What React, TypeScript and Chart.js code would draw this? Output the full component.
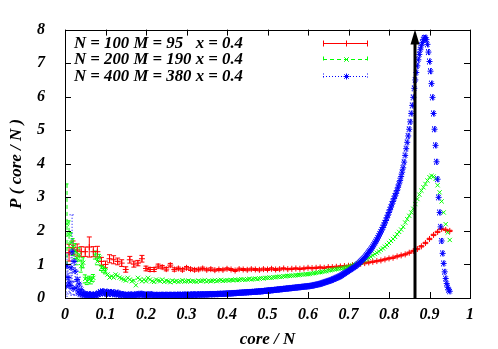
import React, { useEffect, useRef } from 'react';
import { Chart, registerables } from 'chart.js';

Chart.register(...registerables);

const FONT_FAMILY = "'Liberation Serif', 'Times New Roman', Times, serif";

const X_TITLE = 'core / N';
const Y_TITLE = 'P ( core / N )';
const X_MIN = 0;
const X_MAX = 1;
const X_STEP = 0.1;
const Y_MIN = 0;
const Y_MAX = 8;
const Y_STEP = 1;

const legendLabels = [
  'N = 100 M = 95   x = 0.4',
  'N = 200 M = 190 x = 0.4',
  'N = 400 M = 380 x = 0.4',
];
const systemSizes = [100, 200, 400];

// arrow marking the threshold
const ARROW_X = 0.865;
const ARROW_FROM = 0;
const ARROW_TO = 8;

// N = 100, points at k/100, k = 1..95
const red = [
  1.35, 1.5, 1.43, 1.38, 1.38, 1.52, 1.38, 1.38, 1.09, 1.0,
  1.17, 1.14, 1.09, 1.04, 0.85, 1.14, 1.01, 1.04, 1.17, 0.88,
  0.85, 0.85, 0.95, 0.92, 0.86, 0.98, 0.85, 0.88, 0.84, 0.9,
  0.86, 0.84, 0.85, 0.88, 0.84, 0.86, 0.83, 0.85, 0.84, 0.87,
  0.85, 0.82, 0.86, 0.85, 0.84, 0.86, 0.85, 0.84, 0.86, 0.85,
  0.87, 0.85, 0.86, 0.88, 0.86, 0.87, 0.88, 0.87, 0.88, 0.9,
  0.89, 0.9, 0.91, 0.9, 0.92, 0.92, 0.93, 0.94, 0.95, 0.96,
  0.98, 1.0, 1.02, 1.04, 1.06, 1.08, 1.1, 1.12, 1.15, 1.18,
  1.2, 1.24, 1.27, 1.3, 1.35, 1.4, 1.46, 1.54, 1.64, 1.76,
  1.88, 1.97, 2.06, 2.03, 2.0,
];
const redErr = [
  0.25, 0.2, 0.18, 0.15, 0.14, 0.3, 0.15, 0.16, 0.12, 0.1,
  0.12, 0.12, 0.1, 0.1, 0.08, 0.1, 0.09, 0.08, 0.1, 0.07,
  0.06, 0.06, 0.06, 0.05, 0.05, 0.05, 0.05, 0.04, 0.04, 0.04,
  0.04, 0.04, 0.04, 0.04, 0.03, 0.04, 0.03, 0.03, 0.03, 0.03,
  0.03, 0.03, 0.03, 0.03, 0.03, 0.03, 0.03, 0.03, 0.03, 0.03,
  0.03, 0.03, 0.03, 0.02, 0.02, 0.02, 0.02, 0.02, 0.02, 0.02,
  0.02, 0.02, 0.02, 0.02, 0.02, 0.02, 0.02, 0.02, 0.02, 0.02,
  0.02, 0.02, 0.02, 0.02, 0.02, 0.02, 0.02, 0.02, 0.02, 0.02,
  0.02, 0.02, 0.02, 0.02, 0.02, 0.02, 0.02, 0.02, 0.02, 0.02,
  0.02, 0.02, 0.02, 0.02, 0.02,
];

// N = 200, points at k/200, k = 1..190
const green = [
  2.2, 1.9, 1.65, 1.52, 1.4, 1.19, 1.3, 0.95, 1.05, 0.57,
  0.5, 0.55, 0.52, 0.6, 1.28, 1.09, 1.2, 0.9, 0.85, 0.8,
  0.7, 0.61, 0.65, 0.61, 0.7, 0.66, 0.61, 0.58, 0.55, 0.52,
  0.6, 0.55, 0.5, 0.52, 0.38, 0.6, 0.55, 0.5, 0.55, 0.5,
  0.6, 0.55, 0.5, 0.48, 0.55, 0.52, 0.5, 0.55, 0.48, 0.52,
  0.5, 0.47, 0.52, 0.49, 0.51, 0.48, 0.5, 0.53, 0.49, 0.5,
  0.52, 0.49, 0.51, 0.5, 0.48, 0.52, 0.5, 0.51, 0.53, 0.49,
  0.52, 0.5, 0.51, 0.53, 0.5, 0.52, 0.54, 0.51, 0.52, 0.53,
  0.52, 0.54, 0.53, 0.55, 0.53, 0.54, 0.56, 0.55, 0.54, 0.56,
  0.57, 0.55, 0.57, 0.58, 0.56, 0.58, 0.59, 0.58, 0.6, 0.6,
  0.61, 0.6, 0.62, 0.62, 0.63, 0.64, 0.63, 0.65, 0.65, 0.66,
  0.66, 0.67, 0.67, 0.68, 0.68, 0.69, 0.7, 0.7, 0.71, 0.71,
  0.72, 0.73, 0.74, 0.75, 0.76, 0.77, 0.78, 0.79, 0.8, 0.82,
  0.83, 0.84, 0.85, 0.86, 0.87, 0.88, 0.89, 0.9, 0.92, 0.93,
  0.95, 0.97, 0.99, 1.0, 1.03, 1.06, 1.09, 1.12, 1.15, 1.2,
  1.23, 1.27, 1.31, 1.35, 1.39, 1.44, 1.48, 1.53, 1.58, 1.64,
  1.7, 1.76, 1.82, 1.9, 1.97, 2.04, 2.12, 2.25, 2.35, 2.45,
  2.55, 2.66, 2.8, 2.95, 3.08, 3.2, 3.3, 3.4, 3.5, 3.6,
  3.64, 3.62, 3.55, 3.36, 3.15, 2.88, 2.55, 2.2, 1.95, 1.73,
];
const greenErr = [
  1.2, 0.4, 0.3, 0.25, 0.22, 0.2, 0.2, 0.18, 0.15, 0.12,
  0.1, 0.1, 0.1, 0.1, 0.12, 0.1, 0.1, 0.08, 0.08, 0.08,
];

// N = 400, points at k/400, k = 1..380
const blue = [
  0.35, 0.95, 0.61, 0.45, 0.37, 0.9, 1.38, 0.28, 1.09, 0.8,
  0.3, 0.55, 0.18, 0.42, 0.12, 0.25, 0.1, 0.15, 0.08, 0.12,
  0.1, 0.07, 0.09, 0.12, 0.08, 0.06, 0.1, 0.09, 0.07, 0.11,
  0.08, 0.1, 0.14, 0.12, 0.18, 0.15, 0.2, 0.16, 0.13, 0.17,
  0.19, 0.14, 0.16, 0.12, 0.18, 0.15, 0.13, 0.17, 0.11, 0.14,
  0.12, 0.16, 0.1, 0.13, 0.09, 0.11, 0.12, 0.08, 0.1, 0.09,
  0.08, 0.1, 0.07, 0.09, 0.11, 0.08, 0.07, 0.1, 0.09, 0.08,
  0.12, 0.1, 0.09, 0.11, 0.13, 0.1, 0.12, 0.09, 0.08, 0.1,
  0.11, 0.09, 0.08, 0.1, 0.12, 0.09, 0.08, 0.07, 0.09, 0.1,
  0.08, 0.07, 0.09, 0.08, 0.1, 0.09, 0.08, 0.09, 0.1, 0.08,
  0.09, 0.08, 0.1, 0.09, 0.08, 0.09, 0.1, 0.09, 0.08, 0.09,
  0.1, 0.09, 0.1, 0.09, 0.08, 0.1, 0.09, 0.1, 0.09, 0.1,
  0.1, 0.09, 0.1, 0.1, 0.09, 0.1, 0.11, 0.1, 0.09, 0.1,
  0.11, 0.1, 0.1, 0.11, 0.1, 0.11, 0.1, 0.11, 0.11, 0.1,
  0.11, 0.11, 0.12, 0.11, 0.11, 0.12, 0.11, 0.12, 0.12, 0.11,
  0.12, 0.12, 0.13, 0.12, 0.12, 0.13, 0.12, 0.13, 0.13, 0.13,
  0.13, 0.14, 0.13, 0.14, 0.14, 0.14, 0.15, 0.14, 0.15, 0.15,
  0.15, 0.16, 0.15, 0.16, 0.16, 0.16, 0.17, 0.16, 0.17, 0.17,
  0.17, 0.18, 0.17, 0.18, 0.18, 0.18, 0.19, 0.18, 0.19, 0.19,
  0.2, 0.19, 0.2, 0.2, 0.2, 0.21, 0.21, 0.21, 0.22, 0.22,
  0.22, 0.22, 0.23, 0.23, 0.23, 0.24, 0.24, 0.24, 0.25, 0.25,
  0.25, 0.26, 0.26, 0.26, 0.27, 0.27, 0.27, 0.28, 0.28, 0.28,
  0.29, 0.29, 0.29, 0.3, 0.3, 0.3, 0.31, 0.31, 0.31, 0.32,
  0.32, 0.32, 0.33, 0.33, 0.33, 0.34, 0.34, 0.34, 0.35, 0.35,
  0.35, 0.36, 0.36, 0.37, 0.37, 0.38, 0.39, 0.39, 0.4, 0.41,
  0.41, 0.42, 0.43, 0.44, 0.45, 0.46, 0.47, 0.48, 0.49, 0.5,
  0.51, 0.52, 0.53, 0.54, 0.56, 0.57, 0.58, 0.6, 0.61, 0.62,
  0.64, 0.65, 0.67, 0.69, 0.71, 0.73, 0.75, 0.77, 0.79, 0.81,
  0.83, 0.85, 0.87, 0.89, 0.91, 0.93, 0.95, 0.97, 1.0, 1.02,
  1.05, 1.08, 1.11, 1.14, 1.17, 1.2, 1.24, 1.28, 1.32, 1.36,
  1.4, 1.44, 1.48, 1.53, 1.58, 1.63, 1.68, 1.73, 1.79, 1.85,
  1.91, 1.97, 2.03, 2.1, 2.17, 2.24, 2.31, 2.39, 2.47, 2.55,
  2.63, 2.71, 2.8, 2.88, 2.96, 3.04, 3.12, 3.2, 3.3, 3.4,
  3.5, 3.62, 3.75, 3.88, 4.05, 4.25, 4.45, 4.64, 4.83, 5.03,
  5.25, 5.5, 5.74, 5.98, 6.25, 6.5, 6.72, 6.92, 7.1, 7.26,
  7.4, 7.52, 7.62, 7.7, 7.75, 7.76, 7.7, 7.56, 7.33, 7.05,
  6.76, 6.39, 5.98, 5.5, 5.03, 4.55, 4.06, 3.54, 3.0, 2.55,
  2.12, 1.7, 1.33, 1.03, 0.78, 0.58, 0.43, 0.32, 0.24, 0.2,
];
const blueErr = [
  0.3, 0.4, 0.3, 0.3, 0.25, 0.4, 1.1, 0.2, 0.35, 0.3,
  0.2, 0.25, 0.1, 0.2, 0.08, 0.1, 0.06, 0.06, 0.05, 0.05,
];

const seriesValues = [red, green, blue];
const seriesErrors = [redErr, greenErr, blueErr];
const seriesColors = ['#ff0000', '#00ff00', '#0000ff'];
const seriesPointStyles = ['cross', 'crossRot', 'star'];
const seriesDash = [[], [4, 3], [1, 2]];
const seriesCapMin = [0, 0, 2.5];

function drawMarker(ctx: CanvasRenderingContext2D, style: string, x: number, y: number, r: number) {
  ctx.beginPath();
  if (style === 'cross' || style === 'star') {
    ctx.moveTo(x - r, y);
    ctx.lineTo(x + r, y);
    ctx.moveTo(x, y - r);
    ctx.lineTo(x, y + r);
  }
  if (style === 'crossRot' || style === 'star') {
    const d = r * 0.75;
    ctx.moveTo(x - d, y - d);
    ctx.lineTo(x + d, y + d);
    ctx.moveTo(x - d, y + d);
    ctx.lineTo(x + d, y - d);
  }
  ctx.stroke();
}

const gnuplotPlugin = {
  id: 'gnuplotLook',
  beforeDatasetsDraw(chart: any) {
    const { ctx, chartArea, scales } = chart;
    const xs = scales.x;
    const ys = scales.y;
    ctx.save();
    ctx.beginPath();
    ctx.rect(chartArea.left, chartArea.top, chartArea.right - chartArea.left, chartArea.bottom - chartArea.top);
    ctx.clip();
    chart.data.datasets.forEach((ds: any) => {
      const errs: number[] = ds.errors || [];
      ctx.strokeStyle = ds.borderColor;
      ctx.lineWidth = 1;
      ctx.setLineDash(ds.errDash || []);
      ds.data.forEach((p: any, i: number) => {
        const e = errs[i] || 0;
        const px = xs.getPixelForValue(p.x);
        const py = ys.getPixelForValue(p.y);
        const top = Math.min(ys.getPixelForValue(p.y + e), py - ds.capMin);
        const bot = Math.max(ys.getPixelForValue(p.y - e), py + ds.capMin);
        if (bot - top < 1) return;
        ctx.beginPath();
        ctx.moveTo(px, top);
        ctx.lineTo(px, bot);
        ctx.moveTo(px - 2.5, top);
        ctx.lineTo(px + 2.5, top);
        ctx.moveTo(px - 2.5, bot);
        ctx.lineTo(px + 2.5, bot);
        ctx.stroke();
      });
    });
    ctx.restore();
  },
  afterDatasetsDraw(chart: any) {
    const { ctx, scales } = chart;
    const ax = Math.round(scales.x.getPixelForValue(ARROW_X));
    const y0 = scales.y.getPixelForValue(ARROW_FROM);
    const y1 = scales.y.getPixelForValue(ARROW_TO);
    const headLen = 15;
    const headHalf = 4.5;
    ctx.save();
    ctx.strokeStyle = '#000';
    ctx.fillStyle = '#000';
    ctx.lineWidth = 3;
    ctx.beginPath();
    ctx.moveTo(ax, y0);
    ctx.lineTo(ax, y1 + headLen - 2);
    ctx.stroke();
    ctx.beginPath();
    ctx.moveTo(ax, y1);
    ctx.lineTo(ax - headHalf, y1 + headLen);
    ctx.lineTo(ax + headHalf, y1 + headLen);
    ctx.closePath();
    ctx.fill();
    ctx.restore();
  },
  afterDraw(chart: any) {
    const { ctx, chartArea, scales } = chart;
    const { left, right, top, bottom } = chartArea;
    ctx.save();
    ctx.strokeStyle = '#000';
    ctx.lineWidth = 1;
    ctx.setLineDash([]);
    ctx.strokeRect(Math.round(left) + 0.5, Math.round(top) + 0.5, Math.round(right - left), Math.round(bottom - top));
    const tl = 6;
    ctx.beginPath();
    scales.x.ticks.forEach((t: any) => {
      const px = Math.round(scales.x.getPixelForValue(t.value)) + 0.5;
      ctx.moveTo(px, bottom);
      ctx.lineTo(px, bottom - tl);
      ctx.moveTo(px, top);
      ctx.lineTo(px, top + tl);
    });
    scales.y.ticks.forEach((t: any) => {
      const py = Math.round(scales.y.getPixelForValue(t.value)) + 0.5;
      ctx.moveTo(left, py);
      ctx.lineTo(left + tl, py);
      ctx.moveTo(right, py);
      ctx.lineTo(right - tl, py);
    });
    ctx.stroke();

    // key
    const keyTextX = left + 9;
    const keyY0 = top + 13;
    const keyStep = 16.5;
    const sampleL = left + 258;
    const sampleR = left + 303;
    ctx.font = `bold italic 16.8px ${FONT_FAMILY}`;
    ctx.textBaseline = 'middle';
    ctx.textAlign = 'left';
    chart.data.datasets.forEach((ds: any, i: number) => {
      const y = Math.round(keyY0 + keyStep * i) + 0.5;
      ctx.fillStyle = '#000';
      ctx.fillText(ds.label, keyTextX, y);
      ctx.strokeStyle = ds.borderColor;
      ctx.lineWidth = 1;
      ctx.setLineDash(ds.errDash || []);
      ctx.beginPath();
      ctx.moveTo(sampleL, y);
      ctx.lineTo(sampleR, y);
      ctx.moveTo(sampleL + 0.5, y - 3);
      ctx.lineTo(sampleL + 0.5, y + 3);
      ctx.moveTo(sampleR - 0.5, y - 3);
      ctx.lineTo(sampleR - 0.5, y + 3);
      ctx.stroke();
      ctx.setLineDash([]);
      drawMarker(ctx, ds.pointStyle, Math.round((sampleL + sampleR) / 2) + 0.5, y, 3);
    });
    ctx.restore();
  },
};

export default function App() {
  const canvasRef = useRef<HTMLCanvasElement | null>(null);

  useEffect(() => {
    if (!canvasRef.current) return;
    const datasets = seriesValues.map((vals, s) => ({
      label: legendLabels[s],
      data: vals.map((v, i) => ({ x: (i + 1) / systemSizes[s], y: v })),
      showLine: false,
      pointStyle: seriesPointStyles[s],
      pointRadius: 3,
      pointHoverRadius: 3,
      borderWidth: 1,
      borderColor: seriesColors[s],
      backgroundColor: seriesColors[s],
      order: 3 - s,
      errors: seriesErrors[s],
      errDash: seriesDash[s],
      capMin: seriesCapMin[s],
    }));

    const tickFont = { family: FONT_FAMILY, size: 16, weight: 'bold' as const, style: 'italic' as const };
    const titleFont = { family: FONT_FAMILY, size: 17, weight: 'bold' as const, style: 'italic' as const };

    const chart = new Chart(canvasRef.current, {
      type: 'scatter',
      data: { datasets: datasets as any },
      options: {
        animation: false,
        responsive: false,
        events: [],
        layout: { padding: { top: 19, right: 28, left: 0, bottom: 0 } },
        plugins: { legend: { display: false }, tooltip: { enabled: false } },
        scales: {
          x: {
            type: 'linear',
            min: X_MIN,
            max: X_MAX,
            grid: { display: false, drawTicks: false },
            border: { display: false },
            ticks: {
              stepSize: X_STEP,
              color: '#000',
              font: tickFont,
              padding: 7,
              maxRotation: 0,
              autoSkip: false,
              callback: (v: any) => String(Number(Number(v).toFixed(1))),
            },
            title: { display: true, text: X_TITLE, color: '#000', font: titleFont, padding: { top: 0, bottom: -1 } },
            afterFit: (scale: any) => { scale.height = 51; },
          },
          y: {
            type: 'linear',
            min: Y_MIN,
            max: Y_MAX,
            grid: { display: false, drawTicks: false },
            border: { display: false },
            ticks: {
              stepSize: Y_STEP,
              color: '#000',
              font: tickFont,
              padding: 20,
              callback: (v: any) => String(v),
            },
            title: { display: true, text: Y_TITLE, color: '#000', font: titleFont, padding: { top: 6, bottom: 0 } },
            afterFit: (scale: any) => { scale.width = 65; },
          },
        },
      },
      plugins: [gnuplotPlugin],
    });
    return () => chart.destroy();
  }, []);

  return (
    <div style={{ position: 'fixed', left: 0, top: 0, width: 498, height: 349, background: '#fff' }}>
      <canvas ref={canvasRef} width={498} height={349} style={{ display: 'block' }} />
    </div>
  );
}
